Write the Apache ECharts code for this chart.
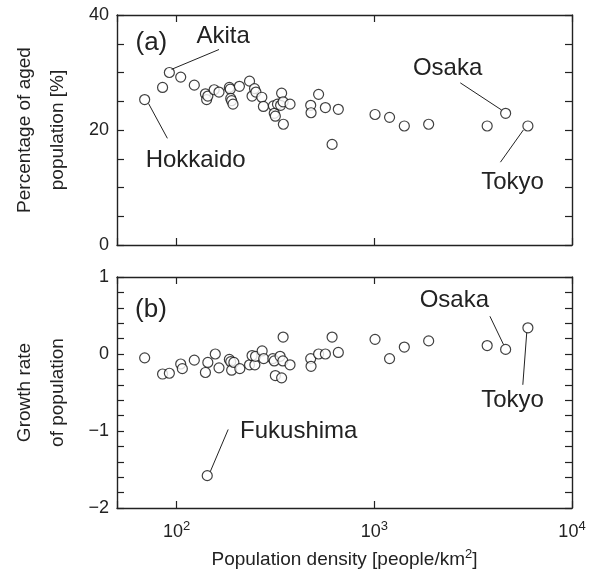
<!DOCTYPE html>
<html><head><meta charset="utf-8">
<script src="https://cdn.jsdelivr.net/npm/echarts@6/dist/echarts.min.js"></script>
<style>html,body{margin:0;padding:0;background:#fff}#c{width:594px;height:575px}</style>
</head><body><div id="c"></div>
<script>
// Panel (a): population density vs percentage of aged population
const densityA = [69,85,92,105,123,140,142,144,155,164,185,187,188,190,193,208,234,241,248,252,270,275,309,312,316,324,336,340,346,347,375,477,479,523,566,612,658,1009,1195,1419,1884,3724,4617,5984];
const agedPct  = [25.3,27.4,30.0,29.2,27.8,26.3,25.3,25.9,27.0,26.6,27.4,27.1,25.5,25.1,24.5,27.6,28.5,25.9,27.2,26.6,25.7,24.1,24.2,22.9,22.4,24.5,24.3,26.4,24.9,21.0,24.5,24.3,23.0,26.2,23.9,17.5,23.6,22.7,22.2,20.7,21.0,20.7,22.9,20.7];
// Panel (b): population density vs growth rate of population
const densityB = [69,85,92,105,107,123,140,144,143,157,164,185,188,190,195,209,234,241,249,251,271,276,307,312,316,334,340,346,345,375,477,479,523,566,612,658,1009,1195,1419,1884,3724,4617,5984];
const growthRate = [-0.05,-0.26,-0.25,-0.13,-0.19,-0.08,-0.24,-0.11,-1.58,0.00,-0.18,-0.07,-0.10,-0.21,-0.11,-0.19,-0.14,-0.02,-0.14,-0.03,0.04,-0.06,-0.06,-0.09,-0.28,-0.03,-0.31,0.22,-0.09,-0.14,-0.06,-0.16,0.00,0.00,0.22,0.02,0.19,-0.06,0.09,0.17,0.11,0.06,0.34];
// Axis ticks
const xTicks = [100, 1000, 10000];
const yTicksA = [0, 20, 40];
const yTicksB = [-2, -1, 0, 1];
// Annotations (data coordinates): label text, label anchor, leader line ends
const annotA = [
  {text:'(a)', at:[74.6,35.2], big:true},
  {text:'Akita', at:[172,36.3], line:[[164,34.0],[94.4,30.55]]},
  {text:'Hokkaido', at:[125,14.8], line:[[89.9,18.55],[72.2,24.6]]},
  {text:'Osaka', at:[2350,30.8], line:[[2723,28.2],[4395,23.5]]},
  {text:'Tokyo', at:[5000,10.9], line:[[4345,14.4],[5675,20.0]]}
];
const annotB = [
  {text:'(b)', at:[74.2,0.58], big:true},
  {text:'Fukushima', at:[415,-1.01], line:[[182.5,-0.98],[148,-1.53]]},
  {text:'Osaka', at:[2540,0.69], line:[[3845,0.49],[4510,0.12]]},
  {text:'Tokyo', at:[5000,-0.60], line:[[5640,-0.40],[5905,0.28]]}
];

const FONT = "'Liberation Sans', Arial, Helvetica, sans-serif";
const INK = '#222';
const chart = echarts.init(document.getElementById('c'), null, {renderer:'canvas'});

function xFmt(v){
  const e = Math.round(Math.log10(v));
  if (!xTicks.some(t => Math.abs(t - v) < 1e-6 * t)) return '';
  return '10{s|' + e + '}';
}
const SUP = {fontSize:13, fontFamily:FONT, color:INK, padding:[0,0,11,0]};
function xAxis(gi, pos, labels, name){
  return {
    type:'log', logBase:10, gridIndex:gi, position:pos, min:50, max:10000,
    axisLine:{show:true, onZero:false, lineStyle:{color:INK, width:1.4}},
    axisTick:{show:true, inside:true, length:7, lineStyle:{color:INK, width:1.2}},
    minorTick:{show:false}, splitLine:{show:false},
    axisLabel:{show:labels, formatter:xFmt, margin:12, color:INK, fontFamily:FONT, fontSize:18,
      rich:{s:SUP}},
    name: name || '', nameLocation:'middle', nameGap:40,
    nameTextStyle:{color:INK, fontFamily:FONT, fontSize:19, rich:{s:SUP}}
  };
}
function yAxis(gi, pos, min, max, interval, minorSplit, labels, name, fmt){
  return {
    type:'value', gridIndex:gi, position:pos, min:min, max:max, interval:interval,
    axisLine:{show:true, onZero:false, lineStyle:{color:INK, width:1.4}},
    axisTick:{show:true, inside:true, length:7, lineStyle:{color:INK, width:1.2}},
    minorTick:{show:true, splitNumber:minorSplit, length:7, lineStyle:{color:INK, width:1.2}},
    splitLine:{show:false},
    axisLabel:{show:labels, margin:8, color:INK, fontFamily:FONT, fontSize:18, formatter:fmt},
    name: name || '', nameLocation:'middle', nameRotate:90, nameGap:43,
    nameTextStyle:{color:INK, fontFamily:FONT, fontSize:19, lineHeight:33}
  };
}
function annSeries(xi, yi, ann){
  return {
    type:'scatter', xAxisIndex:xi, yAxisIndex:yi, silent:true, symbolSize:0, data:[],
    markLine:{silent:true, symbol:['none','none'], animation:false,
      lineStyle:{color:INK, width:1, type:'solid'}, label:{show:false},
      data: ann.filter(a => a.line).map(a => [{coord:a.line[0]},{coord:a.line[1]}])},
    markPoint:{silent:true, animation:false, symbol:'circle', symbolSize:1,
      itemStyle:{color:'rgba(0,0,0,0)'},
      label:{show:true, position:'inside', color:INK, fontFamily:FONT},
      data: ann.map(a => ({coord:a.at, value:a.text,
        label:{formatter:a.text, fontSize: a.big ? 26 : 24}}))}
  };
}
const pt = {symbol:'circle', symbolSize:10,
  itemStyle:{color:'#fff', borderColor:'#111', borderWidth:1.2}};

const option = {
  backgroundColor:'#fff',
  animation:false,
  grid:[
    {left:110, top:15, width:462, height:230, containLabel:false},
    {left:110, top:277, width:462, height:231, containLabel:false}
  ],
  xAxis:[
    xAxis(0,'bottom',false),
    xAxis(0,'top',false),
    xAxis(1,'bottom',true,'Population density [people/km{s|2}]'),
    xAxis(1,'top',false)
  ],
  yAxis:[
    yAxis(0,'left',0,40,20,4,true,'Percentage of aged\npopulation [%]'),
    yAxis(0,'right',0,40,20,4,false),
    yAxis(1,'left',-2,1,1,5,true,'Growth rate\nof population', v => v < 0 ? '\u2212' + Math.abs(v) : String(v)),
    yAxis(1,'right',-2,1,1,5,false)
  ],
  series:[
    Object.assign({type:'scatter', xAxisIndex:0, yAxisIndex:0,
      data: densityA.map((d,i) => [d, agedPct[i]])}, pt),
    Object.assign({type:'scatter', xAxisIndex:2, yAxisIndex:2,
      data: densityB.map((d,i) => [d, growthRate[i]])}, pt),
    annSeries(0,0,annotA),
    annSeries(2,2,annotB)
  ]
};
chart.setOption(option);
</script></body></html>
